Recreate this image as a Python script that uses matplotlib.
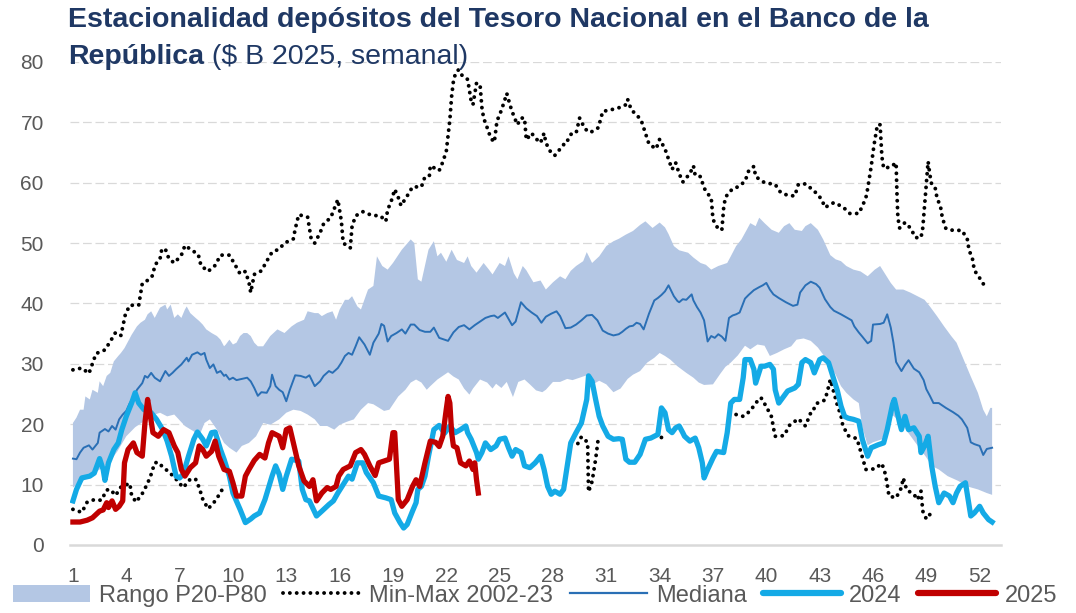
import numpy as np
import matplotlib
matplotlib.use("Agg")
import matplotlib.pyplot as plt
from matplotlib.patches import Patch
from matplotlib.lines import Line2D

plt.rcParams['font.family'] = ['Liberation Sans', 'DejaVu Sans']

nan = float('nan')

# ---------------- data (week of year, $ B 2025) ----------------
x_ticks = list(range(1, 53, 3))
y_ticks = [0, 10, 20, 30, 40, 50, 60, 70, 80]

p80_w = [1.0,1.2,1.4,1.6,1.7,1.95,2.1,2.4,2.5,2.7,2.9,3.1,3.3,3.55,3.7,3.9,4.1,4.3,4.6,4.8,5.05,5.2,5.4,5.6,5.9,6.2,6.3,6.5,6.7,6.9,7.1,7.3,7.4,7.6,7.9,8.1,8.3,8.5,8.8,9.1,9.3,9.5,9.6,9.8,10.0,10.2,10.4,10.6,10.8,11.0,11.2,11.4,11.7,12.1,12.5,12.9,13.3,13.6,14.0,14.2,14.6,14.8,15.0,15.3,15.6,15.8,16.0,16.3,16.5,16.7,17.0,17.2,17.5,17.6,17.9,18.1,18.4,18.7,19.0,19.5,20.0,20.2,20.4,20.6,21.0,21.3,21.5,21.7,22.0,22.3,22.6,23.0,23.2,23.4,23.7,24.1,24.4,24.6,25.0,25.3,25.5,25.8,26.0,26.3,26.5,26.9,27.3,27.6,28.0,28.4,28.7,29.0,29.3,29.7,29.9,30.2,30.6,31.0,31.4,31.7,32.1,32.5,32.9,33.2,33.6,34.0,34.3,34.5,34.8,35.1,35.6,35.9,36.3,36.6,36.9,37.3,37.8,38.0,38.3,38.6,38.9,39.1,39.4,39.6,39.9,40.3,40.7,41.0,41.3,41.6,42.0,42.2,42.5,42.9,43.2,43.6,43.9,44.2,44.5,44.9,45.3,45.7,46.1,46.4,46.7,47.0,47.3,47.7,48.1,48.5,48.9,49.2,49.6,50.0,50.4,50.7,51.1,51.5,51.9,52.2,52.4,52.6,52.7]
p80_v = [20.2,21.1,22.4,22.4,24.6,24.1,25.7,25.2,27.1,26.3,28.0,28.5,30.4,31.3,31.8,32.6,33.7,34.8,36.2,36.8,37.3,38.2,38.7,37.6,39.3,39.8,39.0,39.8,37.6,38.2,37.6,39.0,39.5,38.4,37.6,37.1,36.5,35.7,35.1,34.6,34.0,32.9,33.2,34.0,33.2,33.5,34.6,35.1,35.1,34.6,33.5,32.9,32.9,34.6,35.7,35.1,36.2,36.8,37.3,38.7,38.4,38.4,37.9,38.4,38.7,37.3,39.0,40.6,40.6,41.2,39.5,39.0,41.5,42.3,42.9,47.8,46.2,45.6,46.7,48.9,50.6,50.0,44.0,43.6,48.9,50.3,47.8,48.4,46.9,48.9,47.2,46.7,47.8,46.2,45.1,46.7,45.6,44.8,46.7,46.2,47.8,45.0,44.0,46.2,45.5,43.5,43.8,42.3,43.5,44.5,44.0,45.4,46.2,47.0,48.5,46.7,47.8,49.5,50.3,50.7,51.4,52.0,53.0,53.6,52.5,53.4,52.6,51.5,49.5,48.8,48.4,47.6,46.7,46.4,45.6,46.2,46.7,47.8,49.5,50.6,52.2,53.3,52.8,54.2,53.3,52.2,51.7,52.8,53.3,52.2,52.0,52.8,53.3,52.2,50.6,48.0,47.3,47.0,46.2,45.6,45.3,44.5,45.6,46.2,44.8,43.4,42.3,42.3,41.8,41.2,40.6,39.5,37.9,36.2,34.6,33.5,30.7,27.9,25.2,22.4,21.3,22.7,22.7]

p20_w = [1.0,1.5,2.0,2.5,3.0,3.5,4.0,4.5,5.0,5.5,5.9,6.3,6.7,7.3,7.8,8.1,8.4,8.7,9.1,9.5,9.8,10.2,10.5,10.9,11.3,11.7,12.1,12.6,13.0,13.4,13.8,14.2,14.6,14.9,15.3,15.7,16.0,16.4,16.8,17.2,17.6,17.9,18.5,18.8,19.3,19.7,20.0,20.3,20.6,20.9,21.1,21.5,21.9,22.1,22.4,22.7,23.0,23.3,23.5,23.9,24.3,24.6,24.8,25.1,25.4,25.75,26.05,26.4,26.7,27.05,27.4,27.6,28.0,28.4,28.8,29.1,29.5,29.9,30.2,30.6,31.0,31.4,31.8,32.2,32.5,32.9,33.3,33.7,34.0,34.3,34.6,35.0,35.5,35.9,36.2,36.5,37.0,37.4,37.7,38.0,38.4,38.8,39.1,39.5,39.9,40.2,40.6,41.0,41.4,41.7,42.1,42.5,42.9,43.3,43.6,43.9,44.2,44.5,44.9,45.2,45.4,45.7,46.0,46.5,46.8,47.1,47.5,48.0,48.5,49.0,49.3,49.7,50.2,50.8,51.3,51.9,52.4,52.7]
p20_v = [9.5,10.5,11.5,12.5,13.5,15.5,18.0,19.5,20.5,21.5,21.9,21.3,21.6,19.7,18.8,18.0,20.2,20.8,19.1,16.9,16.1,15.3,16.4,16.9,18.0,20.2,19.9,20.8,21.9,22.4,22.2,21.6,20.8,19.7,19.7,19.1,19.9,20.4,20.8,22.4,23.5,23.3,22.2,22.4,24.6,25.7,26.9,27.4,26.9,25.7,26.3,27.4,28.2,28.6,27.9,27.4,25.9,24.9,25.9,27.4,26.9,25.9,26.7,26.0,27.0,24.5,27.0,27.4,26.6,25.6,25.3,25.7,27.0,27.0,27.5,27.3,27.7,28.1,26.5,27.2,26.6,25.3,25.9,27.5,28.2,28.8,30.2,31.0,31.8,31.3,30.7,29.6,28.5,27.7,26.9,26.5,26.6,28.3,29.5,30.2,31.4,33.0,32.4,33.2,33.0,31.3,31.8,32.4,32.9,34.0,34.2,33.8,32.7,31.1,29.6,28.2,26.3,25.2,24.1,23.5,19.5,16.5,17.0,17.5,19.5,21.5,20.5,18.5,16.5,14.5,13.1,12.5,11.4,10.6,9.7,9.2,8.6,8.3]

max_w = [1.0,1.5,1.9,2.3,2.8,3.1,3.4,3.7,3.95,4.2,4.7,4.9,5.3,5.5,5.6,5.9,6.0,6.2,6.4,6.7,7.1,7.3,7.6,8.05,8.2,8.6,9.0,9.3,9.8,10.1,10.4,10.7,10.9,11.0,
         11.2,11.6,11.9,12.2,12.6,12.9,13.4,13.5,13.7,14.2,14.3,14.4,14.6,14.9,15.1,15.5,15.9,16.1,16.2,16.6,16.7,16.9,17.3,17.8,18.3,18.6,18.7,18.9,19.1,19.35,19.45,19.8,20.1,20.6,20.8,21.05,21.1,21.6,21.8,22.0,
         22.2,22.3,22.4,22.5,22.6,22.7,22.9,23.2,23.3,23.4,23.5,23.7,23.9,24.0,24.1,24.3,24.5,24.7,24.85,25.1,25.3,25.4,25.6,25.8,26.0,26.2,26.4,26.5,26.8,27.0,27.3,27.5,27.6,27.9,28.1,28.6,28.7,29.0,29.3,29.5,29.8,30.1,30.55,30.65,30.8,31.3,31.7,32.1,32.2,32.4,32.9,33.0,33.4,33.8,
         34.0,34.3,34.5,34.7,34.9,35.1,35.3,35.7,35.9,36.0,36.3,36.5,36.8,36.9,37.0,37.3,37.5,37.6,37.7,38.1,38.4,38.8,39.0,39.3,39.4,39.9,40.5,40.8,41.2,41.6,41.8,42.2,42.7,43.1,43.3,43.8,44.3,44.7,45.2,45.4,45.6,45.7,45.8,45.9,46.05,46.15,46.25,46.4,46.5,46.6,47.0,47.3,47.35,47.4,47.5,47.8,48.1,48.4,48.7,48.8,48.9,49.0,49.1,49.2,49.3,49.5,49.6,49.8,49.9,50.1,50.5,51.0,51.3,51.4,51.6,51.7,52.0,52.3]
max_v = [29.0,29.3,28.4,31.7,32.3,33.7,35.2,34.7,38.2,39.7,39.7,43.3,44.0,44.7,46.3,47.4,49.0,49.0,47.4,46.7,48.0,49.6,49.0,48.1,46.3,45.3,46.3,48.0,48.0,46.5,44.9,45.3,43.5,41.8,
         44.8,45.4,47.0,48.5,49.0,50.0,50.7,52.3,54.7,54.3,52.5,50.7,50.0,51.7,53.2,54.2,57.2,53.6,50.0,49.2,52.8,54.5,55.2,54.6,54.5,53.6,55.5,56.9,58.9,57.2,56.2,57.8,59.3,59.3,61.0,61.2,62.8,62.0,63.4,65.2,
         70.4,74.3,76.8,77.9,78.5,78.7,77.7,77.1,75.3,73.5,72.9,76.5,76.2,72.5,70.7,69.1,67.4,66.7,70.2,72.0,73.8,74.8,72.7,71.0,69.6,70.7,70.7,67.1,68.2,67.4,66.6,68.2,66.6,64.9,64.5,66.3,66.3,68.0,68.2,70.7,68.9,68.3,69.1,70.2,71.8,72.1,72.4,72.9,73.8,72.1,70.6,70.0,66.4,65.6,
         67.2,65.6,63.9,62.2,63.3,61.5,60.1,61.5,62.8,61.2,61.0,59.1,57.8,57.5,53.9,52.3,52.2,55.8,57.6,59.0,59.3,60.2,61.9,62.7,61.0,60.0,59.7,58.4,57.9,57.8,59.7,59.8,58.6,57.3,55.9,56.7,56.0,54.9,54.9,56.1,57.5,59.0,60.8,62.7,66.1,67.9,69.6,69.6,64.3,62.4,62.6,63.3,58.0,54.2,52.5,53.4,52.5,50.9,50.9,52.5,56.2,60.0,63.5,61.3,59.7,59.1,57.5,56.0,54.2,52.4,52.1,52.1,50.7,48.9,47.3,45.5,44.2,42.8]

min_w = [1.0,1.5,1.8,2.2,2.6,2.9,3.1,3.4,3.7,4.2,4.3,4.55,4.9,5.2,5.4,5.6,5.8,6.05,6.4,6.8,7.2,7.6,7.9,8.1,8.3,8.6,8.9,9.2,9.5,nan,29.4,29.6,29.95,30.0,30.2,30.4,30.55,nan,34.1,34.3,nan,38.3,38.7,39.1,39.4,39.7,40.0,40.3,40.4,40.5,41.0,41.3,41.8,42.2,42.5,42.6,42.8,43.3,43.45,43.6,44.0,44.2,44.3,44.6,45.1,45.6,46.1,46.5,46.7,46.8,46.9,47.3,47.6,47.7,47.9,48.3,48.5,48.7,48.8,49.0,49.4]
min_v = [5.9,5.4,7.1,7.5,7.4,9.1,9.2,8.2,9.6,10.2,8.2,7.1,8.5,10.2,11.7,13.6,13.7,12.9,12.1,10.9,9.5,10.9,10.9,9.5,7.6,6.0,6.9,8.2,9.7,nan,16.8,17.9,17.0,8.8,10.5,14.2,17.7,nan,17.8,18.2,nan,21.6,21.3,22.2,23.5,24.4,22.9,21.2,19.4,18.0,18.1,19.8,20.9,19.7,21.9,22.0,23.4,24.0,25.6,27.4,23.1,21.4,19.8,18.1,17.6,12.5,12.6,13.5,11.7,10.0,8.1,7.8,9.5,11.1,9.1,8.4,7.5,8.9,5.6,4.3,5.8]

med_w = [1.0,1.2,1.4,1.6,1.9,2.1,2.4,2.5,2.8,3.0,3.2,3.4,3.6,3.8,4.0,4.2,4.4,4.6,4.9,5.05,5.2,5.4,5.6,5.9,6.2,6.4,6.6,6.8,7.1,7.4,7.5,7.7,8.0,8.2,8.4,8.5,8.7,8.9,9.1,9.3,9.5,9.6,9.8,10.0,10.2,10.5,10.8,11.0,11.2,11.4,11.6,11.9,12.1,12.2,12.4,12.6,12.8,13.0,13.2,13.5,13.8,14.1,14.3,14.6,14.9,15.1,15.4,15.6,15.9,16.1,16.3,16.5,16.7,16.9,17.1,17.4,17.7,17.9,18.2,18.35,18.5,18.7,18.9,19.2,19.5,19.7,20.0,20.2,20.5,20.8,21.1,21.3,21.6,21.9,22.1,22.4,22.7,23.0,23.3,23.6,23.9,24.2,24.5,24.7,24.9,25.3,25.7,25.9,26.2,26.5,26.8,27.1,27.35,27.6,27.9,28.2,28.4,28.7,29.0,29.3,29.6,29.9,30.2,30.5,30.8,31.1,31.4,31.7,31.9,32.1,32.3,32.5,32.7,32.9,33.1,33.4,33.7,33.9,34.1,34.3,34.5,34.8,35.0,35.1,35.3,35.5,35.8,35.9,36.1,36.3,36.5,36.7,36.9,37.1,37.3,37.5,37.7,37.9,38.1,38.3,38.5,38.8,39.0,39.3,39.6,39.8,40.0,40.2,40.4,40.7,41.1,41.5,41.75,41.9,42.2,42.5,42.8,43.0,43.3,43.6,43.8,44.2,44.5,44.8,44.95,45.2,45.4,45.7,45.9,46.0,46.4,46.6,46.8,47.0,47.15,47.3,47.6,47.8,48.0,48.3,48.6,48.85,49.0,49.2,49.4,49.7,50.1,50.5,50.8,51.0,51.3,51.5,51.7,52.0,52.2,52.4,52.7]
med_v = [14.3,14.2,15.3,16.1,16.5,15.8,16.9,18.6,19.2,18.8,19.7,19.1,20.8,21.6,22.2,23.5,24.4,25.7,26.8,28.0,27.7,28.5,27.7,27.1,28.8,28.0,28.5,29.1,29.9,31.0,30.4,31.5,31.9,31.5,31.8,30.7,29.3,29.9,28.5,28.8,28.0,28.2,27.4,27.7,27.3,27.5,27.7,27.1,26.0,24.7,25.3,25.2,26.3,28.2,26.3,25.7,25.3,23.8,25.7,28.1,28.0,27.7,28.1,26.3,27.1,28.0,28.8,28.5,29.3,30.2,31.3,31.8,31.5,32.9,34.4,33.2,31.5,33.5,35.0,36.6,36.3,33.7,34.6,35.1,35.7,35.0,36.5,36.5,35.6,35.3,35.3,36.0,34.3,34.0,33.8,35.2,36.1,36.4,35.7,36.4,37.0,37.6,37.9,38.0,37.6,38.5,36.4,37.0,40.2,39.2,38.5,37.9,36.8,37.8,38.3,38.7,37.9,35.9,36.0,36.5,37.2,38.0,38.1,37.2,35.5,35.0,34.7,34.9,35.3,35.8,36.2,36.3,36.8,36.6,35.7,38.3,40.5,40.9,41.4,42.0,43.0,41.2,40.4,40.2,40.7,40.6,41.5,40.5,39.4,38.5,37.2,33.7,34.6,34.3,34.9,34.5,33.8,37.6,38.0,38.2,38.5,40.8,41.4,42.2,42.7,43.0,43.4,42.3,41.5,40.9,40.2,39.6,39.8,41.8,43.0,43.6,43.2,42.6,40.7,39.4,38.8,38.2,37.7,37.2,36.2,35.2,34.5,33.4,33.8,36.5,36.6,36.8,38.2,36.0,33.5,30.3,28.8,29.8,30.6,29.2,28.6,27.3,25.8,24.7,23.5,23.5,22.7,22.0,21.4,20.8,19.4,17.0,16.7,16.4,14.9,15.9,16.1]

y2024_w = [1.0,1.2,1.5,1.95,2.2,2.5,2.7,2.8,3.0,3.3,3.55,3.75,4.0,4.3,4.5,4.7,5.0,5.4,5.7,6.05,6.3,6.55,6.8,7.0,7.2,7.5,7.8,8.0,8.3,8.5,8.8,9.0,9.3,9.5,9.8,10.0,10.4,10.7,11.0,11.2,11.5,11.8,12.2,12.4,12.6,12.8,13.0,13.3,13.7,13.9,14.1,14.3,14.7,15.0,15.4,15.65,15.9,16.2,16.5,16.7,17.0,17.3,17.5,17.9,18.2,18.6,18.9,19.1,19.4,19.6,19.8,20.1,20.3,20.4,20.6,20.8,21.0,21.3,21.6,21.9,22.2,22.5,22.8,23.1,23.2,23.4,23.7,23.8,24.0,24.2,24.5,24.8,25.0,25.3,25.5,25.7,25.9,26.2,26.4,26.7,27.0,27.3,27.5,27.7,27.9,28.1,28.4,28.6,28.8,29.0,29.3,29.6,29.9,30.0,30.2,30.4,30.6,30.8,31.1,31.4,31.7,31.9,32.1,32.3,32.6,32.9,33.2,33.5,33.9,34.1,34.3,34.5,34.7,34.9,35.1,35.3,35.4,35.7,36.0,36.2,36.4,36.5,36.7,37.0,37.2,37.6,37.8,38.0,38.2,38.5,38.7,38.8,39.1,39.3,39.4,39.7,39.9,40.2,40.4,40.5,40.7,41.0,41.2,41.6,41.8,42.0,42.2,42.5,42.7,43.0,43.2,43.5,43.8,44.0,44.2,44.4,44.6,44.9,45.2,45.4,45.7,45.9,46.3,46.6,46.8,47.1,47.2,47.5,47.6,47.8,48.0,48.3,48.6,48.7,48.9,49.1,49.3,49.5,49.7,50.0,50.3,50.5,50.7,50.9,51.2,51.5,51.7,52.0,52.2,52.5,52.7]
y2024_v = [7.3,9.2,11.1,11.4,11.9,14.3,12.5,10.7,13.6,15.8,16.9,19.1,21.3,23.5,25.2,23.5,22.4,21.9,20.8,19.1,17.2,14.7,11.4,11.1,11.7,14.7,17.5,18.7,17.5,16.4,18.6,18.7,15.8,14.2,11.4,8.6,5.9,3.7,4.3,4.8,5.3,7.5,11.4,13.1,11.7,9.2,11.4,14.2,13.9,9.2,7.5,7.3,4.8,5.6,6.7,7.3,8.6,10.0,11.4,10.9,13.6,13.6,12.0,10.3,8.1,7.8,7.5,5.3,3.7,2.8,3.4,5.6,7.0,9.2,9.7,11.4,14.7,19.1,19.8,18.5,19.7,18.6,19.1,19.7,18.6,17.5,15.3,14.2,15.3,16.9,15.8,16.4,17.5,17.7,16.1,14.7,15.8,15.3,13.1,12.8,13.6,14.7,12.5,9.7,8.4,8.9,8.4,9.2,13.1,16.9,18.6,20.2,24.1,28.0,27.1,24.1,21.3,19.7,18.0,17.5,17.6,17.5,14.2,13.7,13.7,15.0,17.5,17.7,18.3,22.7,21.9,19.1,18.6,19.4,19.7,18.6,18.0,17.2,17.7,16.1,13.6,11.1,12.5,14.4,15.5,15.3,18.6,23.5,24.1,24.1,27.7,30.7,30.7,29.1,26.8,29.6,29.6,29.9,29.1,25.7,23.5,24.7,25.5,26.0,26.6,30.2,30.7,30.2,28.5,30.7,31.0,30.2,27.4,25.5,23.0,21.3,21.0,20.8,20.5,17.5,14.7,16.1,16.6,16.9,19.1,23.3,24.1,20.2,19.1,21.3,19.1,19.4,18.0,15.3,16.4,18.0,13.1,9.7,7.0,8.6,8.1,7.0,8.6,9.7,10.3,4.8,5.3,6.4,5.3,4.2,3.8]

y2025_w = [1.0,1.4,1.8,2.1,2.5,2.7,2.9,3.0,3.2,3.4,3.6,3.8,3.9,4.1,4.4,4.6,4.9,5.05,5.2,5.3,5.5,5.8,6.1,6.4,6.55,6.7,6.9,7.1,7.3,7.6,7.9,8.1,8.3,8.5,8.8,9.0,9.2,9.5,9.8,10.0,10.2,10.5,10.7,10.9,11.2,11.5,11.8,12.0,12.2,12.6,12.8,13.0,13.2,13.4,13.7,14.0,14.3,14.5,14.7,15.0,15.3,15.5,15.8,15.95,16.2,16.6,16.9,17.2,17.4,17.7,18.0,18.2,18.5,18.8,19.0,19.1,19.3,19.5,19.8,20.1,20.3,20.5,20.8,21.1,21.4,21.6,21.8,22.0,22.1,22.2,22.3,22.4,22.6,22.8,23.1,23.3,23.5,23.6,23.7,23.8]
y2025_v = [3.8,3.8,4.1,4.5,5.6,5.8,7.0,6.2,7.3,5.9,6.4,7.3,13.6,15.8,16.9,15.3,14.7,20.2,24.1,22.4,18.6,18.0,19.1,18.6,17.5,16.4,15.3,12.5,11.4,12.8,13.6,16.4,15.8,14.7,15.5,17.2,14.7,12.5,12.2,10.3,8.1,8.1,11.4,12.5,14.0,15.0,14.4,16.9,18.6,18.0,16.1,19.1,19.4,16.9,13.1,10.6,9.7,10.8,7.3,8.6,9.5,9.2,9.7,11.4,12.5,13.1,15.3,15.8,15.0,13.1,11.5,13.6,13.9,14.2,18.6,18.6,7.5,6.4,7.5,9.7,10.8,9.7,13.6,17.2,17.0,16.3,18.0,22.5,24.6,23.5,18.6,16.4,16.1,13.6,13.1,13.9,12.5,13.6,10.8,8.6]

labels = ["Rango P20-P80", "Min-Max 2002-23", "Mediana", "2024", "2025"]

# ---------------- styles ----------------
c_band = '#b4c7e4'
c_med = '#2a6fb5'
c_24 = '#14aae6'
c_25 = '#c00000'
c_grid = '#d9d9d9'
c_txt = '#595959'
c_title = '#1f3864'
dots = (0, (0.01, 1.75))

fig = plt.figure(figsize=(10.76, 6.13), dpi=100)
ax = fig.add_axes([0.0653, 0.111, 0.865, 0.788])

ax.fill(p80_w + p20_w[::-1], p80_v + p20_v[::-1], color=c_band, lw=0, zorder=1)
ax.plot(med_w, med_v, color=c_med, lw=1.4, zorder=2)
ax.plot(max_w, max_v, color='black', lw=2.8, linestyle=dots, dash_capstyle='round', zorder=3)
ax.plot(min_w, min_v, color='black', lw=2.8, linestyle=dots, dash_capstyle='round', zorder=3)
ax.plot(y2024_w, y2024_v, color=c_24, lw=3.8, solid_joinstyle='round', zorder=4)
ax.plot(y2025_w, y2025_v, color=c_25, lw=3.8, solid_joinstyle='round', zorder=5)

ax.set_xlim(0.85, 53.2)
ax.set_ylim(0, 80)
ax.set_yticks(y_ticks)
ax.set_xticks(x_ticks)
ax.set_xticklabels([str(t) for t in x_ticks])
for y in y_ticks[1:]:
    ax.axhline(y, color=c_grid, lw=0.9, linestyle=(0, (7, 3)), zorder=0)
for s in ['top', 'right', 'left']:
    ax.spines[s].set_visible(False)
ax.spines['bottom'].set_color(c_grid)
ax.spines['bottom'].set_linewidth(1.8)
ax.tick_params(axis='both', length=0, labelsize=15, labelcolor=c_txt)
ax.tick_params(axis='y', pad=19)
ax.tick_params(axis='x', pad=16)

# legend
handles = [
    Patch(facecolor=c_band, edgecolor='none'),
    Line2D([], [], color='black', lw=2.8, linestyle=dots, dash_capstyle='round'),
    Line2D([], [], color=c_med, lw=1.6),
    Line2D([], [], color=c_24, lw=4.5, solid_capstyle='round'),
    Line2D([], [], color=c_25, lw=4.5, solid_capstyle='round'),
]
leg = fig.legend(handles, labels, loc='center', bbox_to_anchor=(0.497, 0.028), ncol=5,
                 frameon=False, fontsize=17, handlelength=3.3, handleheight=0.75,
                 handletextpad=0.35, columnspacing=0.7, labelcolor=c_txt)

# title
fig.text(0.063, 1 - 27 / 613, "Estacionalidad depósitos del Tesoro Nacional en el Banco de la",
         fontsize=20.5, fontweight='bold', color=c_title, va='baseline', ha='left')
t2 = fig.text(0.063, 1 - 64 / 613, "República", fontsize=20.5, fontweight='bold',
              color=c_title, va='baseline', ha='left')
fig.canvas.draw()
bb = t2.get_window_extent(renderer=fig.canvas.get_renderer())
fig.text(bb.x1 / fig.bbox.width, 1 - 64 / 613, r" (\$ B 2025, semanal)", fontsize=20.5,
         color=c_title, va='baseline', ha='left')

fig.savefig('out.png', dpi=100)
